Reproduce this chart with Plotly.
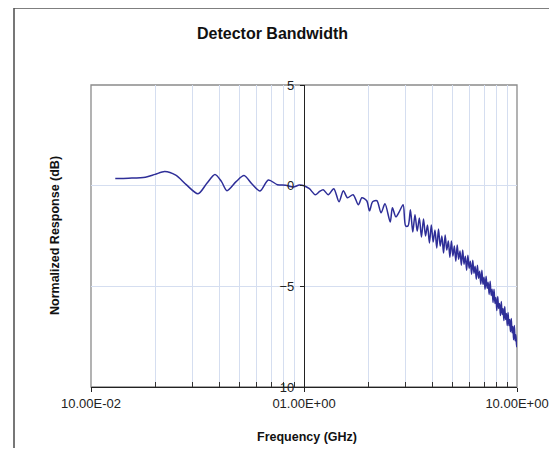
import plotly.graph_objects as go

# ---- data ----
freq_low = [0.13, 0.15, 0.18, 0.20, 0.222, 0.25, 0.28, 0.318, 0.35, 0.382, 0.41, 0.435,
            0.48, 0.523, 0.57, 0.622, 0.68, 0.75, 0.82, 0.89, 0.95, 1.0]
resp_low = [0.35, 0.37, 0.42, 0.56, 0.7, 0.52, 0.05, -0.4, 0.12, 0.55, 0.2, -0.25,
            0.2, 0.5, 0.08, -0.26, 0.28, 0.05, 0.02, -0.07, 0.03, 0.0]

freq_mid = [1.06, 1.13, 1.18, 1.23, 1.3, 1.38, 1.46, 1.53, 1.6, 1.7, 1.8, 1.87, 1.97,
            2.03, 2.1, 2.2, 2.3, 2.4, 2.54, 2.6, 2.7, 2.8, 2.92, 3.0]
resp_mid = [-0.15, -0.45, -0.3, -0.2, -0.45, -0.15, -0.8, -0.25, -0.6, -0.45, -0.95, -0.6, -0.75,
            -1.25, -0.8, -0.75, -1.35, -0.9, -1.8, -1.1, -1.55, -1.3, -0.95, -2.0]

freq_high = [3.08, 3.16, 3.24, 3.32, 3.40, 3.48, 3.56, 3.64, 3.72, 3.80, 3.88, 3.96,
             4.04, 4.12, 4.20, 4.28, 4.36, 4.44, 4.52, 4.60, 4.68, 4.76, 4.84, 4.92,
             5.00, 5.08, 5.16, 5.24, 5.32, 5.40, 5.48, 5.56, 5.64, 5.72, 5.80, 5.88,
             5.96, 6.04, 6.12, 6.20, 6.28, 6.36, 6.44, 6.52, 6.60, 6.68, 6.76, 6.84,
             6.92, 7.00, 7.08, 7.16, 7.24, 7.32, 7.40, 7.48, 7.56, 7.64, 7.72, 7.80,
             7.88, 7.96, 8.04, 8.12, 8.20, 8.28, 8.36, 8.44, 8.52, 8.60, 8.68, 8.76,
             8.84, 8.92, 9.00, 9.08, 9.16, 9.24, 9.32, 9.40, 9.48, 9.56, 9.64, 9.72,
             9.80, 9.88, 9.96, 10.0]
resp_high = [-2.0, -1.2, -2.3, -1.45, -2.25, -1.6, -2.55, -1.65, -2.5, -1.95, -2.85, -1.95,
             -2.8, -2.2, -3.1, -2.15, -3.0, -2.5, -3.35, -2.45, -3.2, -2.75, -3.55, -2.75,
             -3.5, -3.0, -3.75, -2.95, -3.65, -3.25, -3.95, -3.2, -3.9, -3.5, -4.2, -3.45,
             -4.1, -3.75, -4.4, -3.7, -4.35, -4.0, -4.65, -3.95, -4.6, -4.25, -4.9, -4.2,
             -4.9, -4.55, -5.15, -4.5, -5.1, -4.8, -5.4, -4.75, -5.45, -5.15, -5.8, -5.15,
             -5.85, -5.55, -6.2, -5.5, -6.1, -5.85, -6.45, -5.75, -6.4, -6.1, -6.7, -6.0,
             -6.65, -6.35, -6.95, -6.3, -6.95, -6.65, -7.25, -6.6, -7.3, -7.0, -7.65, -6.95,
             -7.7, -7.4, -8.0, -7.7]

x_tick_vals = [0.1, 1, 10]
x_tick_text = ["10.00E-02", "01.00E+00", "10.00E+00"]
x_minor_vals = [0.2, 0.3, 0.4, 0.5, 0.6, 0.7, 0.8, 0.9, 2, 3, 4, 5, 6, 7, 8, 9]
y_tick_vals = [5, 0, -5, -10]

title_text = "Detector Bandwidth"
x_title = "Frequency (GHz)"
y_title = "Normalized Response (dB)"

freq = freq_low + freq_mid + freq_high
resp = resp_low + resp_mid + resp_high

# page body has an 8px margin: keep the figure inside the window (no scrollbars)
OFF = 8
W, H = 557 - 2 * OFF, 440
ML = 91 - OFF
MT = 85 - OFF
MR = W - (517 - OFF)
MB = H - (387 - OFF)
pw, ph = W - ML - MR, H - MT - MB

def px_x(p):  # page x pixel -> paper
    return (p - OFF - ML) / pw

def px_y(p):  # page y pixel -> paper
    return (H - MB - (p - OFF)) / ph

FONT = "Liberation Sans, Arial, sans-serif"
GRID = "#d5def0"

fig = go.Figure()
fig.add_trace(go.Scatter(
    x=freq, y=resp, mode="lines",
    line=dict(color="#2e2e98", width=1.5, shape="spline", smoothing=0.8),
    showlegend=False, hoverinfo="skip",
))

fig.update_layout(
    width=W, height=H, autosize=False,
    margin=dict(l=ML, r=MR, t=MT, b=MB, pad=0, autoexpand=False),
    paper_bgcolor="white", plot_bgcolor="white",
    font=dict(family=FONT, color="#222222", size=12),
    xaxis=dict(
        type="log", range=[-1, 1], domain=[0, 1], automargin=False,
        tickmode="array", tickvals=x_tick_vals, ticktext=x_tick_text,
        ticks="outside", ticklen=4, tickcolor="#222", tickwidth=1,
        showline=True, linecolor="#222", linewidth=1.3,
        showgrid=False, zeroline=False,
        tickfont=dict(size=13, color="#222"),
        minor=dict(tickmode="array", tickvals=x_minor_vals, ticks="inside",
                   ticklen=5, tickcolor="#333", showgrid=True, gridcolor=GRID,
                   gridwidth=1),
        ticklabelstandoff=0,
    ),
    yaxis=dict(
        range=[-10, 5], anchor="free", position=0.5, side="left", automargin=False,
        tickmode="array", tickvals=y_tick_vals,
        ticks="outside", ticklen=4, tickcolor="#222",
        showline=True, linecolor="#222", linewidth=1.3,
        showgrid=True, gridcolor=GRID, gridwidth=1, zeroline=False,
        tickfont=dict(size=13, color="#222"),
        ticklabelstandoff=3,
    ),
    shapes=[
        # plot area border
        dict(type="rect", xref="paper", yref="paper", x0=0, x1=1, y0=0, y1=1,
             line=dict(color="#8a8a8a", width=1.3), layer="below"),
        # outer chart frame (left and top edges visible)
        dict(type="line", xref="paper", yref="paper",
             x0=px_x(14), x1=px_x(14), y0=px_y(470), y1=px_y(8),
             line=dict(color="#555555", width=1.6), layer="below"),
        dict(type="line", xref="paper", yref="paper",
             x0=px_x(14), x1=px_x(570), y0=px_y(8), y1=px_y(8),
             line=dict(color="#555555", width=1.6), layer="below"),
    ],
    annotations=[
        dict(text="<b>" + title_text + "</b>", xref="paper", yref="paper",
             x=px_x(272), y=px_y(33), xanchor="center", yanchor="middle",
             showarrow=False, font=dict(size=16, color="#111", family=FONT)),
        dict(text="<b>" + x_title + "</b>", xref="paper", yref="paper",
             x=px_x(307), y=px_y(437), xanchor="center", yanchor="middle",
             showarrow=False, font=dict(size=12.5, color="#111", family=FONT)),
        dict(text="<b>" + y_title + "</b>", xref="paper", yref="paper",
             x=px_x(55), y=px_y(236), xanchor="center", yanchor="middle",
             textangle=-90, showarrow=False,
             font=dict(size=12.5, color="#111", family=FONT)),
    ],
)

fig.write_html("out.html")
